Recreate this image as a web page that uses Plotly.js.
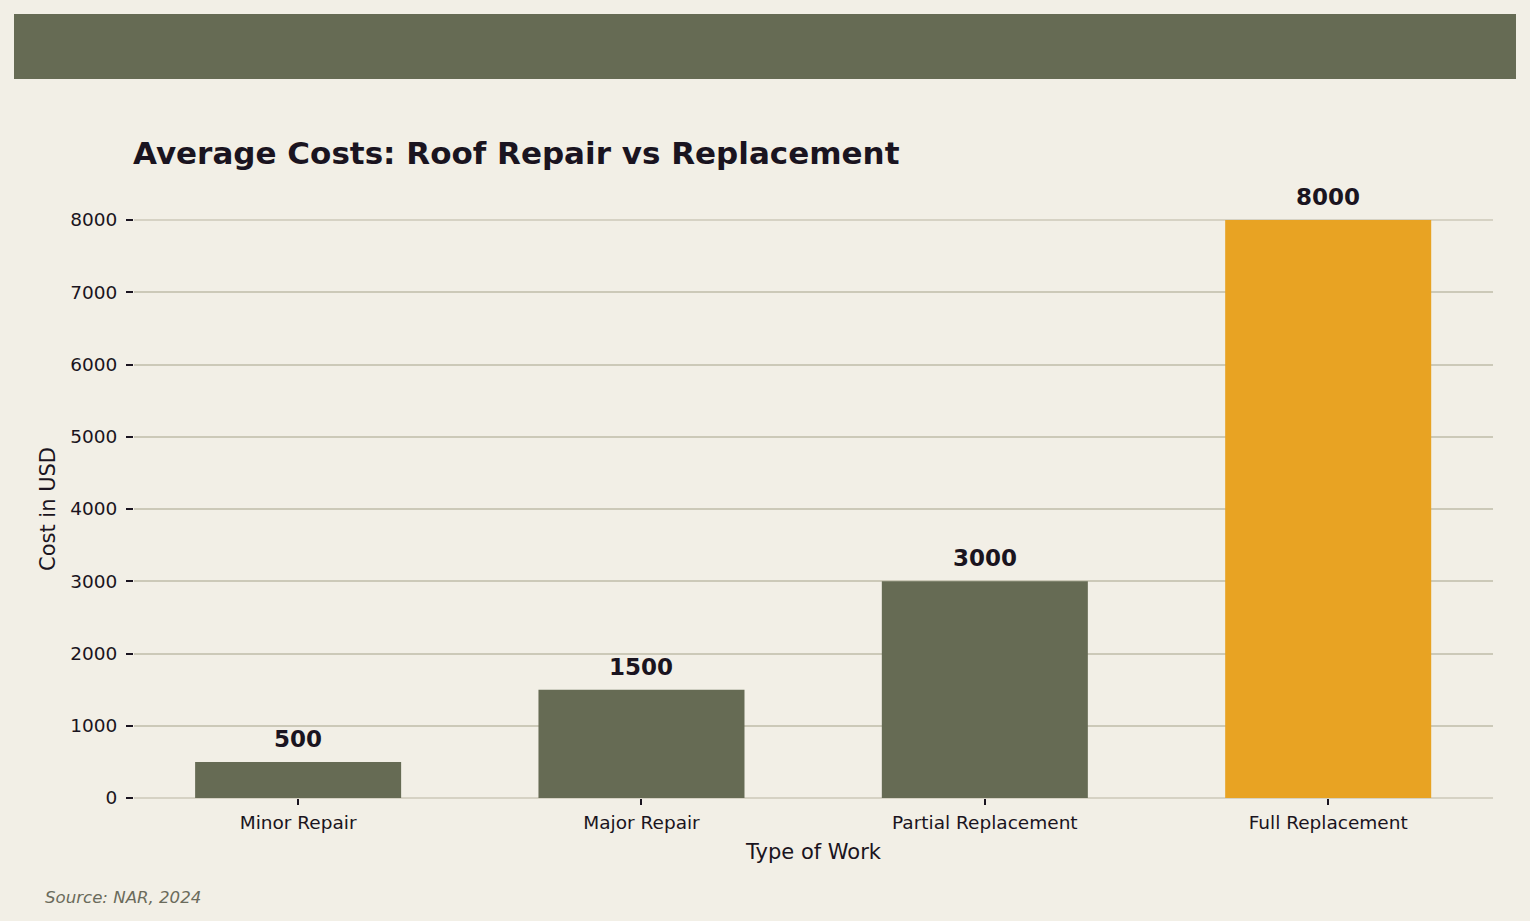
<!DOCTYPE html>
<html>
<head>
<meta charset="utf-8">
<script src="https://cdn.plot.ly/plotly-3.0.1.min.js"></script>
<style>
html,body{margin:0;padding:0;background:#F2EFE6;}
#chart{width:1530px;height:921px;}
</style>
</head>
<body>
<div id="chart"></div>
<script>
const categories = ["Minor Repair", "Major Repair", "Partial Replacement", "Full Replacement"];
const costs = [500, 1500, 3000, 8000];
const barColors = ["#666B54", "#666B54", "#666B54", "#E8A323"];
const yTicks = [0, 1000, 2000, 3000, 4000, 5000, 6000, 7000, 8000];

const W = 1530, H = 921;
const M = {l: 134, r: 37, t: 220, b: 123};
const pw = W - M.l - M.r, ph = H - M.t - M.b;
const px = x => (x - M.l) / pw;
const py = y => (H - M.b - y) / ph;

const font = "DejaVu Sans, Verdana, sans-serif";
const dark = "#1A1420";
const grid = "#CCC9B8";

const trace = {
  type: "bar",
  x: categories,
  y: costs,
  width: 0.6,
  marker: {color: barColors, line: {width: 0}},
  hoverinfo: "x+y"
};

const annotations = categories.map((c, i) => ({
  x: c, y: costs[i], xref: "x", yref: "y",
  text: "<b>" + costs[i] + "</b>",
  showarrow: false, yanchor: "bottom", yshift: 8,
  font: {family: font, size: 23, color: dark}
}));
annotations.push({
  xref: "paper", yref: "paper", x: px(131), y: py(153),
  xanchor: "left", yanchor: "middle",
  text: "<b>Average Costs: Roof Repair vs Replacement</b>",
  showarrow: false, font: {family: font, size: 31, color: dark}
});
annotations.push({
  xref: "paper", yref: "paper", x: px(43), y: py(897),
  xanchor: "left", yanchor: "middle",
  text: "<i>Source: NAR, 2024</i>",
  showarrow: false, font: {family: font, size: 16.6, color: "#6B6B5B"}
});

const layout = {
  width: W, height: H,
  margin: M,
  paper_bgcolor: "#F2EFE6",
  plot_bgcolor: "#F2EFE6",
  font: {family: font, color: dark},
  showlegend: false,
  bargap: 0.4,
  xaxis: {
    type: "category",
    range: [-0.478, 3.48],
    showgrid: false, zeroline: false, showline: false,
    ticks: "outside", ticklen: 6, tickwidth: 1.5, tickcolor: dark,
    ticklabelstandoff: 2,
    tickfont: {family: font, size: 18.5, color: dark},
    title: {text: "Type of Work", font: {family: font, size: 21, color: dark}, standoff: 12}
  },
  yaxis: {
    range: [0, 8000],
    tickvals: yTicks,
    ticktext: yTicks.map(String),
    showgrid: true, gridcolor: grid, gridwidth: 1.5,
    zeroline: false, showline: false,
    ticks: "outside", ticklen: 7, tickwidth: 1.5, tickcolor: dark,
    ticklabelstandoff: 5,
    tickfont: {family: font, size: 18.5, color: dark},
    title: {text: "Cost in USD", font: {family: font, size: 21, color: dark}, standoff: 8}
  },
  shapes: [{
    type: "rect", xref: "paper", yref: "paper",
    x0: px(14), x1: px(1516), y0: py(79), y1: py(14),
    fillcolor: "#666B54", line: {width: 0}, layer: "below"
  }, {
    type: "line", xref: "paper", yref: "paper",
    x0: 0, x1: 1, y0: 0, y1: 0,
    line: {color: grid, width: 1.5}, layer: "below"
  }, {
    type: "line", xref: "paper", yref: "paper",
    x0: 0, x1: 1, y0: 1, y1: 1,
    line: {color: grid, width: 1.5}, layer: "below"
  }],
  annotations: annotations
};

Plotly.newPlot("chart", [trace], layout, {displayModeBar: false, responsive: false});
</script>
</body>
</html>
